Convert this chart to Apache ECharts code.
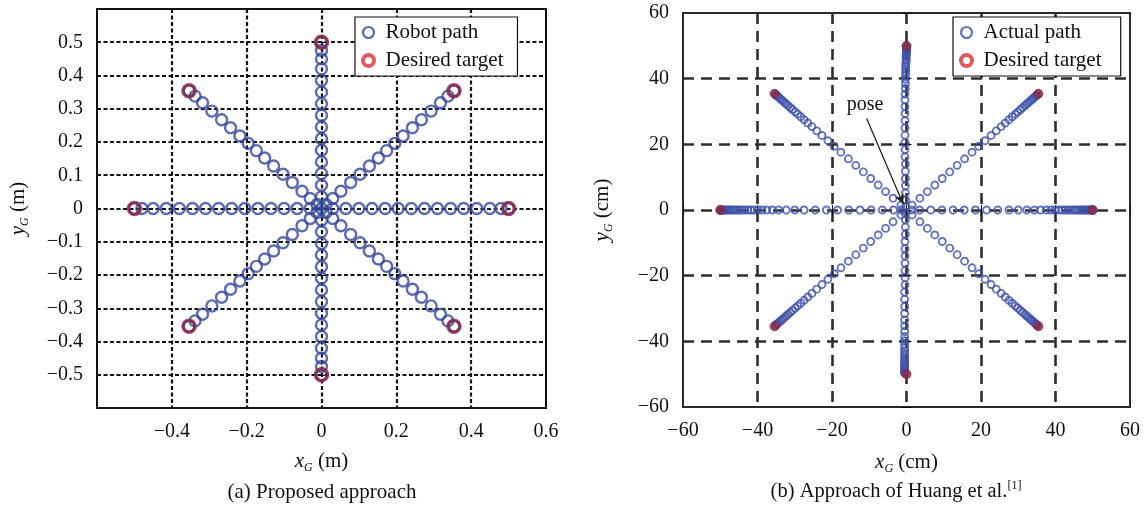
<!DOCTYPE html>
<html>
<head>
<meta charset="utf-8">
<script src="https://cdn.jsdelivr.net/npm/echarts@6/dist/echarts.min.js"></script>
<style>
  html, body { margin: 0; padding: 0; background: #ffffff; }
  #chart { width: 1147px; height: 506px; }
</style>
</head>
<body>
<div id="chart"></div>
<script>
// ---------- (a) Proposed approach: robot path along eight headings (m) ----------
const robotPathCenter = [[0, 0]];
const robotPathEast = [[0.03,0],[0.065,0],[0.1,0],[0.135,0],[0.17,0],[0.205,0],[0.24,0],[0.275,0],[0.31,0],[0.345,0],[0.38,0],[0.415,0],[0.45,0],[0.48,0],[0.5,0]];
const robotPathWest = [[-0.03,0],[-0.065,0],[-0.1,0],[-0.135,0],[-0.17,0],[-0.205,0],[-0.24,0],[-0.275,0],[-0.31,0],[-0.345,0],[-0.38,0],[-0.415,0],[-0.45,0],[-0.48,0],[-0.5,0]];
const robotPathNorth = [[0,0.035],[0,0.07],[0,0.105],[0,0.14],[0,0.175],[0,0.21],[0,0.245],[0,0.28],[0,0.315],[0,0.35],[0,0.385],[0,0.42],[0,0.45],[0,0.475],[0,0.5]];
const robotPathSouth = [[0,-0.035],[0,-0.07],[0,-0.105],[0,-0.14],[0,-0.175],[0,-0.21],[0,-0.245],[0,-0.28],[0,-0.315],[0,-0.35],[0,-0.385],[0,-0.42],[0,-0.45],[0,-0.475],[0,-0.5]];
const robotPathNE = [[0.012,0.012],[0.03,0.03],[0.052,0.052],[0.078,0.078],[0.103,0.103],[0.128,0.128],[0.152,0.152],[0.174,0.174],[0.196,0.196],[0.218,0.218],[0.243,0.243],[0.267,0.267],[0.293,0.293],[0.318,0.318],[0.338,0.338],[0.354,0.354]];
const robotPathNW = [[-0.012,0.012],[-0.03,0.03],[-0.052,0.052],[-0.078,0.078],[-0.103,0.103],[-0.128,0.128],[-0.152,0.152],[-0.174,0.174],[-0.196,0.196],[-0.218,0.218],[-0.243,0.243],[-0.267,0.267],[-0.293,0.293],[-0.318,0.318],[-0.338,0.338],[-0.354,0.354]];
const robotPathSW = [[-0.012,-0.012],[-0.03,-0.03],[-0.052,-0.052],[-0.078,-0.078],[-0.103,-0.103],[-0.128,-0.128],[-0.152,-0.152],[-0.174,-0.174],[-0.196,-0.196],[-0.218,-0.218],[-0.243,-0.243],[-0.267,-0.267],[-0.293,-0.293],[-0.318,-0.318],[-0.338,-0.338],[-0.354,-0.354]];
const robotPathSE = [[0.012,-0.012],[0.03,-0.03],[0.052,-0.052],[0.078,-0.078],[0.103,-0.103],[0.128,-0.128],[0.152,-0.152],[0.174,-0.174],[0.196,-0.196],[0.218,-0.218],[0.243,-0.243],[0.267,-0.267],[0.293,-0.293],[0.318,-0.318],[0.338,-0.338],[0.354,-0.354]];
const targetsA = [[0.5,0],[0.354,0.354],[0,0.5],[-0.354,0.354],[-0.5,0],[-0.354,-0.354],[0,-0.5],[0.354,-0.354]];

// ---------- (b) Approach of Huang et al.: actual path (cm) ----------
const actualPathEast = [[1.3,0],[3.5,0],[6.5,0],[9.5,0],[12.5,0],[15.5,0],[18.5,0],[21.5,0],[24.5,0],[27.5,0],[30,0],[32.3,0],[34.3,0],[36,0],[37.5,0],[38.8,0],[39.9,0],[40.9,0],[41.8,0],[42.6,0],[43.4,0],[44.1,0],[44.8,0],[45.4,0],[46,0],[46.6,0],[47.1,0],[47.6,0],[48.1,0],[48.5,0],[48.9,0],[49.3,0],[49.6,0],[49.9,0]];
const actualPathWest = [[-1.3,0],[-3.5,0],[-6.5,0],[-9.5,0],[-12.5,0],[-15.5,0],[-18.5,0],[-21.5,0],[-24.5,0],[-27.5,0],[-30,0],[-32.3,0],[-34.3,0],[-36,0],[-37.5,0],[-38.8,0],[-39.9,0],[-40.9,0],[-41.8,0],[-42.6,0],[-43.4,0],[-44.1,0],[-44.8,0],[-45.4,0],[-46,0],[-46.6,0],[-47.1,0],[-47.6,0],[-48.1,0],[-48.5,0],[-48.9,0],[-49.3,0],[-49.6,0],[-49.9,0]];
const actualPathNorth = [[-0.2,1],[-0.2,3],[-0.3,5.2],[-0.3,7.4],[-0.3,9.6],[-0.3,11.8],[-0.3,14],[-0.4,16.2],[-0.4,18.4],[-0.4,20.6],[-0.4,22.8],[-0.4,25],[-0.4,27.2],[-0.4,29.4],[-0.4,31.5],[-0.4,33.5],[-0.4,35.3],[-0.3,37],[-0.3,38.5],[-0.3,39.8],[-0.3,41],[-0.2,42],[-0.2,42.9],[-0.2,43.7],[-0.2,44.5],[-0.1,45.2],[-0.1,45.9],[-0.1,46.5],[-0.1,47.1],[0,47.6],[0,48.1],[0,48.6],[0,49],[0,49.4],[0,49.7]];
const actualPathSouth = [[-0.3,-1],[-0.3,-3],[-0.3,-5.2],[-0.3,-7.4],[-0.4,-9.6],[-0.4,-11.8],[-0.4,-14],[-0.4,-16.2],[-0.4,-18.4],[-0.4,-20.6],[-0.4,-22.8],[-0.5,-25],[-0.5,-27.2],[-0.5,-29.4],[-0.5,-31.5],[-0.5,-33.5],[-0.5,-35.3],[-0.5,-37],[-0.5,-38.5],[-0.5,-39.8],[-0.5,-41],[-0.5,-42],[-0.5,-42.9],[-0.5,-43.7],[-0.5,-44.5],[-0.5,-45.2],[-0.5,-45.9],[-0.5,-46.5],[-0.5,-47.1],[-0.5,-47.6],[-0.5,-48.1],[-0.5,-48.6],[-0.5,-49],[-0.5,-49.4],[-0.5,-49.7]];
const actualPathNE = [[1.5,1.5],[3.6,3.6],[5.6,5.6],[7.6,7.6],[9.6,9.6],[11.6,11.6],[13.6,13.6],[15.6,15.6],[17.6,17.6],[19.4,19.4],[21.1,21.1],[22.7,22.7],[24.1,24.1],[25.4,25.4],[26.5,26.5],[27.5,27.5],[28.4,28.4],[29.2,29.2],[29.9,29.9],[30.6,30.6],[31.2,31.2],[31.8,31.8],[32.3,32.3],[32.8,32.8],[33.3,33.3],[33.7,33.7],[34.1,34.1],[34.5,34.5],[34.8,34.8],[35.1,35.1]];
const actualPathNW = [[-1.5,1.5],[-3.6,3.6],[-5.6,5.6],[-7.6,7.6],[-9.6,9.6],[-11.6,11.6],[-13.6,13.6],[-15.6,15.6],[-17.6,17.6],[-19.4,19.4],[-21.1,21.1],[-22.7,22.7],[-24.1,24.1],[-25.4,25.4],[-26.5,26.5],[-27.5,27.5],[-28.4,28.4],[-29.2,29.2],[-29.9,29.9],[-30.6,30.6],[-31.2,31.2],[-31.8,31.8],[-32.3,32.3],[-32.8,32.8],[-33.3,33.3],[-33.7,33.7],[-34.1,34.1],[-34.5,34.5],[-34.8,34.8],[-35.1,35.1]];
const actualPathSW = [[-1.5,-1.5],[-3.6,-3.6],[-5.6,-5.6],[-7.6,-7.6],[-9.6,-9.6],[-11.6,-11.6],[-13.6,-13.6],[-15.6,-15.6],[-17.6,-17.6],[-19.4,-19.4],[-21.1,-21.1],[-22.7,-22.7],[-24.1,-24.1],[-25.4,-25.4],[-26.5,-26.5],[-27.5,-27.5],[-28.4,-28.4],[-29.2,-29.2],[-29.9,-29.9],[-30.6,-30.6],[-31.2,-31.2],[-31.8,-31.8],[-32.3,-32.3],[-32.8,-32.8],[-33.3,-33.3],[-33.7,-33.7],[-34.1,-34.1],[-34.5,-34.5],[-34.8,-34.8],[-35.1,-35.1]];
const actualPathSE = [[1.5,-1.5],[3.6,-3.6],[5.6,-5.6],[7.6,-7.6],[9.6,-9.6],[11.6,-11.6],[13.6,-13.6],[15.6,-15.6],[17.6,-17.6],[19.4,-19.4],[21.1,-21.1],[22.7,-22.7],[24.1,-24.1],[25.4,-25.4],[26.5,-26.5],[27.5,-27.5],[28.4,-28.4],[29.2,-29.2],[29.9,-29.9],[30.6,-30.6],[31.2,-31.2],[31.8,-31.8],[32.3,-32.3],[32.8,-32.8],[33.3,-33.3],[33.7,-33.7],[34.1,-34.1],[34.5,-34.5],[34.8,-34.8],[35.1,-35.1]];
const targetsB = [[50,0],[35.4,35.4],[0,50],[-35.4,35.4],[-50,0],[-35.4,-35.4],[0,-50],[35.4,-35.4]];

// "pose" callout: label anchor and arrow tip (cm)
const poseArrowFrom = [-10.7, 27.9];
const poseArrowTo = [-0.9, 1.8];

// ---------- tick labels ----------
const xTickLabelsA = ['', '\u22120.4', '\u22120.2', '0', '0.2', '0.4', '0.6'];
const yTickLabelsA = ['', '\u22120.5', '\u22120.4', '\u22120.3', '\u22120.2', '\u22120.1', '0', '0.1', '0.2', '0.3', '0.4', '0.5', ''];
const tickLabelsB = ['\u221260', '\u221240', '\u221220', '0', '20', '40', '60'];

const SERIF = '"Liberation Serif", "DejaVu Serif", serif';
const INK = '#111111';
const BLUE_A = '#34479a';
const BLUE_B = '#3e53a8';
const TARGET_ON_PLOT = '#8a2645';
const TARGET_LEGEND = '#d8303a';

const chart = echarts.init(document.getElementById('chart'), null, { renderer: 'canvas' });

const nameRich = {
  i: { fontFamily: SERIF, fontStyle: 'italic', fontSize: 21, color: INK, lineHeight: 26 },
  s: { fontFamily: SERIF, fontStyle: 'italic', fontSize: 12, color: INK, lineHeight: 10, verticalAlign: 'bottom' },
  t: { fontFamily: SERIF, fontSize: 21, color: INK, lineHeight: 26 }
};

function axisBase(extra) {
  return Object.assign({
    type: 'value',
    axisLine: { show: false },
    axisTick: { show: true, inside: true, length: 5, lineStyle: { color: INK, width: 1 } },
    nameLocation: 'middle',
    nameTextStyle: { rich: nameRich }
  }, extra);
}

function tickLabel(list) {
  return { fontFamily: SERIF, fontSize: 20, color: INK, margin: 14, formatter: (v, i) => list[i] };
}

// Inner dashed grid; the frame edges are drawn by the grid border instead
const gridLineA = { show: true, showMinLine: false, showMaxLine: false, lineStyle: { color: '#111111', width: 2.2, type: [4, 2.5] } };
const gridLineB = { show: true, showMinLine: false, showMaxLine: false, lineStyle: { color: '#2e2e2e', width: 2.6, type: [11, 7] } };

function pathSeries(name, data, xi, color, size, bw) {
  return {
    name: name, type: 'scatter', xAxisIndex: xi, yAxisIndex: xi, data: data,
    symbol: 'circle', symbolSize: size,
    itemStyle: { color: 'rgba(0,0,0,0)', borderColor: color, borderWidth: bw },
    emphasis: { disabled: true }, silent: true, z: 3
  };
}

// Frame-edge tick marks on the top and right sides
function mirrorAxis(kind, gi, min, max, interval) {
  return {
    type: 'value', gridIndex: gi, min: min, max: max, interval: interval,
    position: kind === 'x' ? 'top' : 'right',
    axisLine: { show: false }, axisLabel: { show: false }, splitLine: { show: false },
    axisTick: { show: true, inside: true, length: 5, lineStyle: { color: INK, width: 1 } }
  };
}

const legendCommon = {
  orient: 'vertical', itemGap: 7, itemWidth: 12, itemHeight: 11,
  padding: [5, 14, 5, 6], backgroundColor: '#ffffff', borderColor: INK, borderWidth: 1.2, borderRadius: 0,
  textStyle: { fontFamily: SERIF, fontSize: 21, color: INK, padding: [0, 0, 0, 6] },
  selectedMode: false
};

const option = {
  animation: false,
  backgroundColor: '#ffffff',
  grid: [
    { left: 97, top: 9, width: 449, height: 399, show: true, borderColor: INK, borderWidth: 2, backgroundColor: 'transparent' },
    { left: 683, top: 13, width: 447, height: 394, show: true, borderColor: '#2a2a2a', borderWidth: 2, backgroundColor: 'transparent' }
  ],
  xAxis: [
    axisBase({ gridIndex: 0, min: -0.6, max: 0.6, interval: 0.2, splitLine: gridLineA,
      axisLabel: tickLabel(xTickLabelsA), name: '{i|x}{s|G}{t| (m)}', nameGap: 40 }),
    axisBase({ gridIndex: 1, min: -60, max: 60, interval: 20, splitLine: gridLineB,
      axisLabel: tickLabel(tickLabelsB), name: '{i|x}{s|G}{t| (cm)}', nameGap: 42 }),
    mirrorAxis('x', 0, -0.6, 0.6, 0.2),
    mirrorAxis('x', 1, -60, 60, 20)
  ],
  yAxis: [
    axisBase({ gridIndex: 0, min: -0.6, max: 0.6, interval: 0.1, splitLine: gridLineA,
      axisLabel: tickLabel(yTickLabelsA), name: '{i|y}{s|G}{t| (m)}', nameGap: 66 }),
    axisBase({ gridIndex: 1, min: -60, max: 60, interval: 20, splitLine: gridLineB,
      axisLabel: tickLabel(tickLabelsB), name: '{i|y}{s|G}{t| (cm)}', nameGap: 68 }),
    mirrorAxis('y', 0, -0.6, 0.6, 0.1),
    mirrorAxis('y', 1, -60, 60, 20)
  ],
  legend: [
    Object.assign({}, legendCommon, {
      left: 355, top: 17,
      data: [
        { name: 'Robot path', icon: 'circle', itemStyle: { color: '#ffffff', borderColor: BLUE_A, borderWidth: 2.2 } },
        { name: 'Desired target', icon: 'circle', itemStyle: { color: '#ffffff', borderColor: TARGET_LEGEND, borderWidth: 4 } }
      ]
    }),
    Object.assign({}, legendCommon, {
      left: 953, top: 17,
      data: [
        { name: 'Actual path', icon: 'circle', itemStyle: { color: '#ffffff', borderColor: BLUE_B, borderWidth: 2.2 } },
        { name: 'Desired target ', icon: 'circle', itemStyle: { color: '#ffffff', borderColor: TARGET_LEGEND, borderWidth: 4 } }
      ]
    })
  ],
  series: [
    pathSeries('Robot path', robotPathCenter.concat(robotPathEast, robotPathWest, robotPathNorth, robotPathSouth,
      robotPathNE, robotPathNW, robotPathSW, robotPathSE), 0, BLUE_A, 11, 2.4),
    {
      name: 'Desired target', type: 'scatter', xAxisIndex: 0, yAxisIndex: 0, data: targetsA,
      symbol: 'circle', symbolSize: 12,
      itemStyle: { color: 'rgba(0,0,0,0)', borderColor: TARGET_ON_PLOT, borderWidth: 3.6 },
      emphasis: { disabled: true }, silent: true, z: 4
    },
    pathSeries('Actual path', actualPathEast.concat(actualPathWest, actualPathNorth, actualPathSouth,
      actualPathNE, actualPathNW, actualPathSW, actualPathSE), 1, BLUE_B, 7, 1.9),
    {
      name: 'Desired target ', type: 'scatter', xAxisIndex: 1, yAxisIndex: 1, data: targetsB,
      symbol: 'circle', symbolSize: 9,
      itemStyle: { color: TARGET_ON_PLOT, borderColor: TARGET_ON_PLOT, borderWidth: 1 },
      emphasis: { disabled: true }, silent: true, z: 4,
      markLine: {
        silent: true, symbol: ['none', 'arrow'], symbolSize: [7, 10],
        lineStyle: { color: '#222222', width: 1.3, type: 'solid' },
        label: { show: true, position: 'start', formatter: 'pose', fontFamily: SERIF, fontSize: 20, color: INK, distance: 4 },
        data: [[{ coord: poseArrowFrom }, { coord: poseArrowTo }]]
      }
    }
  ],
  graphic: [
    { type: 'text', x: 322, y: 492, style: { text: '(a) Proposed approach', font: '21px ' + SERIF, fill: INK, textAlign: 'center', textVerticalAlign: 'middle' } },
    { type: 'text', x: 896, y: 492, style: {
      text: '(b) Approach of Huang et al.{sup|[1]}', font: '20.5px ' + SERIF, fill: INK, textAlign: 'center', textVerticalAlign: 'middle',
      rich: { sup: { fontFamily: SERIF, fontSize: 12, fill: INK, verticalAlign: 'top', lineHeight: 24 } }
    } }
  ]
};

chart.setOption(option);
</script>
</body>
</html>
